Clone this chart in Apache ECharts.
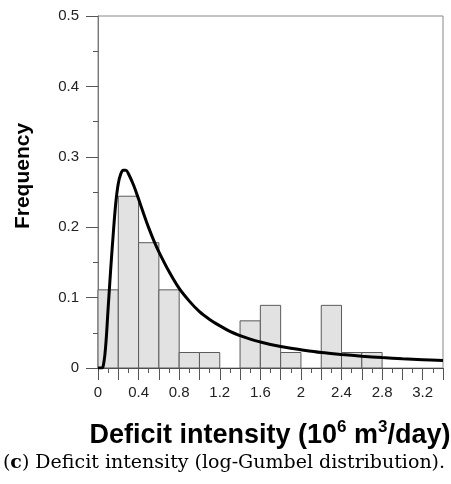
<!DOCTYPE html>
<html>
<head>
<meta charset="utf-8">
<script src="https://cdn.jsdelivr.net/npm/echarts@6/dist/echarts.min.js"></script>
<style>
html,body{margin:0;padding:0;background:#fff;}
#chart{width:451px;height:484px;}
</style>
</head>
<body>
<div id="chart"></div>
<script>
// Histogram bins (10^6 m^3/day) and relative frequencies
const binStart = [0, 0.2, 0.4, 0.6, 0.8, 1.0, 1.2, 1.4, 1.6, 1.8, 2.0, 2.2, 2.4, 2.6];
const binEnd   = [0.2, 0.4, 0.6, 0.8, 1.0, 1.2, 1.4, 1.6, 1.8, 2.0, 2.2, 2.4, 2.6, 2.8];
const binFreq  = [0.111, 0.244, 0.178, 0.111, 0.022, 0.022, 0, 0.067, 0.089, 0.022, 0, 0.089, 0.022, 0.022];

// Fitted log-Gumbel density curve
const curveX = [0, 0.025, 0.05, 0.075, 0.1, 0.125, 0.15, 0.175, 0.2, 0.225, 0.25, 0.275, 0.3, 0.35, 0.4, 0.45, 0.5, 0.55, 0.6, 0.7, 0.8, 0.9, 1.0, 1.1, 1.2, 1.3, 1.4, 1.5, 1.6, 1.7, 1.8, 1.9, 2.0, 2.2, 2.4, 2.6, 2.8, 3.0, 3.2, 3.4];
const curveY = [0, 0, 0.002, 0.03, 0.085, 0.14, 0.19, 0.234, 0.262, 0.276, 0.281, 0.281, 0.276, 0.26, 0.24, 0.219, 0.199, 0.181, 0.165, 0.137, 0.113, 0.095, 0.08, 0.069, 0.06, 0.052, 0.046, 0.041, 0.037, 0.0335, 0.0305, 0.028, 0.0258, 0.022, 0.0192, 0.0168, 0.0148, 0.0132, 0.0118, 0.0105];

// Axis tick labels
const xTickLabels = ['0', '0.4', '0.8', '1.2', '1.6', '2', '2.4', '2.8', '3.2'];
const yTickLabels = ['0', '0.1', '0.2', '0.3', '0.4', '0.5'];

const xAxisTitle = '{m|Deficit intensity (10}{s|6}{m| m}{s|3}{m|/day)}';
const yAxisTitle = 'Frequency';
const caption = '{p|(}{b|c}{p|) Deficit intensity (log-Gumbel distribution).}';

const chart = echarts.init(document.getElementById('chart'), null, {renderer: 'canvas'});

const histData = binStart.map((s, i) => [s, binEnd[i], binFreq[i]]);
const lineData = curveX.map((x, i) => [x, curveY[i]]);

function fmtX(v) {
  const s = String(Math.round(v * 10) / 10);
  return xTickLabels.indexOf(s) >= 0 ? s : '';
}
function fmtY(v) {
  const s = String(Math.round(v * 100) / 100);
  return yTickLabels.indexOf(s) >= 0 ? s : '';
}

const option = {
  animation: false,
  backgroundColor: '#fff',
  grid: {left: 98, right: 8, top: 16, bottom: 116, show: true, borderColor: '#888', borderWidth: 1},
  xAxis: {
    type: 'value', min: 0, max: 3.4, interval: 0.2,
    axisLine: {show: true, onZero: false, lineStyle: {color: '#444', width: 1}},
    axisTick: {show: true, length: 12, inside: false, lineStyle: {color: '#555'}},
    minorTick: {show: true, splitNumber: 2, length: 5, lineStyle: {color: '#555'}},
    splitLine: {show: false},
    axisLabel: {formatter: fmtX, margin: 17, fontFamily: 'Liberation Sans', fontSize: 15, color: '#222', showMaxLabel: false}
  },
  yAxis: {
    type: 'value', min: 0, max: 0.5, interval: 0.1,
    axisLine: {show: true, lineStyle: {color: '#777', width: 1}},
    axisTick: {show: true, length: 12, inside: false, lineStyle: {color: '#555'}},
    minorTick: {show: true, splitNumber: 2, length: 5, lineStyle: {color: '#555'}},
    splitLine: {show: false},
    axisLabel: {formatter: fmtY, margin: 19, fontFamily: 'Liberation Sans', fontSize: 15, color: '#222'}
  },
  graphic: [
    {type: 'text', x: 23, y: 176, rotation: Math.PI / 2,
     style: {text: yAxisTitle, fontFamily: 'Liberation Sans', fontWeight: 'bold', fontSize: 21, fill: '#000', align: 'center', verticalAlign: 'middle'}},
    {type: 'text', x: 270, y: 434,
     style: {text: xAxisTitle, align: 'center', verticalAlign: 'middle',
       rich: {
         m: {fontFamily: 'Liberation Sans', fontWeight: 'bold', fontSize: 27, fill: '#000', lineHeight: 30, verticalAlign: 'bottom'},
         s: {fontFamily: 'Liberation Sans', fontWeight: 'bold', fontSize: 17, fill: '#000', lineHeight: 18, verticalAlign: 'top'}
       }}},
    {type: 'text', x: 224, y: 463,
     style: {text: caption, align: 'center', verticalAlign: 'middle',
       rich: {
         p: {fontFamily: 'DejaVu Serif', fontSize: 19, fill: '#000'},
         b: {fontFamily: 'DejaVu Serif', fontWeight: 'bold', fontSize: 19, fill: '#000'}
       }}}
  ],
  series: [
    {
      type: 'custom',
      data: histData,
      encode: {x: [0, 1], y: 2},
      z: 2,
      renderItem: function (params, api) {
        const v = api.value(2);
        if (!v) return null;
        const p0 = api.coord([api.value(0), v]);
        const p1 = api.coord([api.value(1), 0]);
        return {
          type: 'rect',
          shape: {x: p0[0], y: p0[1], width: p1[0] - p0[0], height: p1[1] - p0[1]},
          style: {fill: '#e2e2e2', stroke: '#5a5a5a', lineWidth: 1}
        };
      }
    },
    {
      type: 'line',
      data: lineData,
      showSymbol: false,
      smooth: 0.35,
      z: 3,
      lineStyle: {color: '#000', width: 3}
    }
  ]
};
chart.setOption(option);
</script>
</body>
</html>
